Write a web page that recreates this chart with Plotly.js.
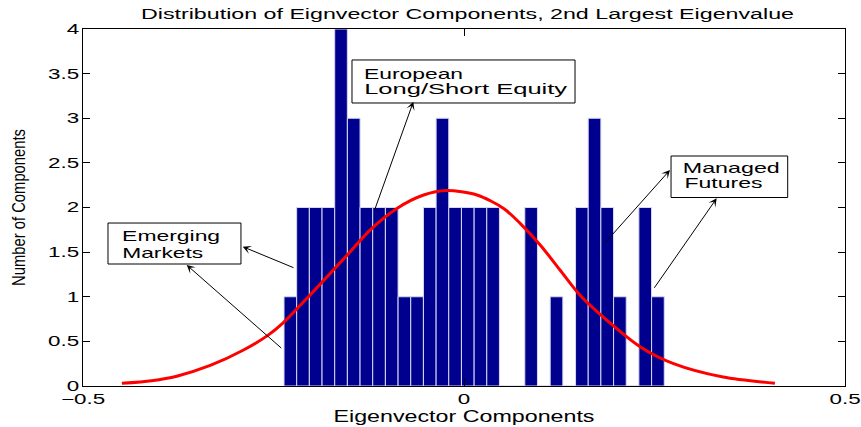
<!DOCTYPE html>
<html>
<head>
<meta charset="utf-8">
<script src="https://cdn.plot.ly/plotly-3.0.1.min.js"></script>
<style>
  body { margin: 0; background: white; }
</style>
</head>
<body>
<div id="plot"></div>
<script>
/*
Distribution of eigenvector components, 2nd largest eigenvalue
*/

// histogram bins (centres) and counts
var binCenters = [-0.2279, -0.2113, -0.1946, -0.1780, -0.1614, -0.1447, -0.1281, -0.1115,
                  -0.0948, -0.0782, -0.0616, -0.0449, -0.0283, -0.0117, 0.0050, 0.0216,
                  0.0382, 0.0549, 0.0715, 0.0881, 0.1048, 0.1214, 0.1380, 0.1547,
                  0.1713, 0.1879, 0.2046, 0.2212, 0.2378, 0.2545];
var counts = [1, 2, 2, 2, 4, 3, 2, 2,
              2, 1, 1, 2, 3, 2, 2, 2,
              2, 0, 0, 2, 0, 1, 0, 2,
              3, 2, 1, 0, 2, 1];

// fitted normal curve
var curveX = [-0.449, -0.410, -0.377, -0.333, -0.290, -0.257, -0.237, -0.202, -0.152, -0.123,
              -0.088, -0.053, -0.023, 0.017, 0.052, 0.074, 0.100, 0.126, 0.152, 0.187,
              0.231, 0.275, 0.340, 0.408];
var curveY = [0.03, 0.06, 0.11, 0.23, 0.40, 0.57, 0.71, 1.02, 1.48, 1.75,
              1.99, 2.14, 2.19, 2.14, 1.99, 1.82, 1.58, 1.30, 1.02, 0.74,
              0.44, 0.25, 0.10, 0.03];

var xTicks = [-0.5, 0, 0.5];

// callout labels and their widths in the picture (px)
var labelText = ["Emerging", "Markets", "European", "Long/Short Equity", "Managed", "Futures"];
var labelX = [-0.3845, -0.3957, -0.0659, 0.0024, 0.3514, 0.3399];
var labelY = [1.681, 1.501, 3.504, 3.336, 2.443, 2.275];
var labelWidth = [98, 81, 99, 203, 97, 78];

var traceBars =
{
  x: binCenters,
  y: counts,
  type: "bar",
  marker:
  {
    color: '#00008F',
    line: { color: 'rgba(215,215,240,1)', width: 1 }
  },
  hoverinfo: "skip"
};

var traceCurve =
{
  x: curveX,
  y: curveY,
  type: "scatter",
  mode: "lines",
  line: { color: '#ff0000', width: 3, shape: 'spline', smoothing: 0.8 },
  hoverinfo: "skip"
};

var data = [traceBars, traceCurve];

// annotation boxes drawn as shapes
function box(x0, x1, y0, y1)
{
  return { type: 'rect', xref: 'x', yref: 'y', x0: x0, x1: x1, y0: y0, y1: y1,
           line: { color: 'black', width: 1 }, fillcolor: 'white', layer: 'above' };
}

function arrow(x, y, ax, ay)
{
  return { text: '', x: x, y: y, ax: ax, ay: ay, xref: 'x', yref: 'y', axref: 'x', ayref: 'y',
           showarrow: true, arrowhead: 3, arrowsize: 1.4, arrowwidth: 1, arrowcolor: 'black',
           standoff: 0, startstandoff: 0 };
}

var annotations = labelText.map(function (t, i)
{
  return { text: t, x: labelX[i], y: labelY[i], xref: 'x', yref: 'y', showarrow: false,
           xanchor: 'center', yanchor: 'middle', font: { size: 15, color: 'black' } };
});

annotations = annotations.concat([
  arrow(-0.2904, 1.561, -0.2218, 1.319),
  arrow(-0.3639, 1.356, -0.2379, 0.411),
  arrow(-0.0665, 3.185, -0.1181, 1.953),
  arrow(0.2703, 2.420, 0.1837, 1.591),
  arrow(0.3316, 2.103, 0.2484, 1.083)
]);

var layout =
{
  width: 861,
  height: 427,
  margin: { l: 83, r: 16, t: 29, b: 41 },
  paper_bgcolor: 'white',
  plot_bgcolor: 'white',
  showlegend: false,
  bargap: 0,
  font: { family: 'Liberation Sans, Arial, sans-serif', size: 14, color: 'black' },
  title:
  {
    text: "Distribution of Eignvector Components, 2nd Largest Eigenvalue",
    font: { size: 14 },
    xref: 'paper', x: 0.5046, xanchor: 'center',
    yref: 'container', y: 1 - 14 / 427, yanchor: 'middle'
  },
  xaxis:
  {
    range: [-0.5, 0.5],
    tickvals: xTicks,
    ticks: 'inside', ticklen: 7, tickcolor: 'black',
    showline: true, linecolor: 'black', linewidth: 1, mirror: 'ticks',
    showgrid: false, zeroline: false,
    title: { text: "Eigenvector Components", standoff: 2 }
  },
  yaxis:
  {
    range: [0, 4], tick0: 0, dtick: 0.5,
    ticks: 'inside', ticklen: 7, tickcolor: 'black',
    showline: true, linecolor: 'black', linewidth: 1, mirror: 'ticks',
    showgrid: false, zeroline: false,
    title: { text: "Number of Components", font: { size: 18 }, standoff: 29 }
  },
  shapes:
  [
    box(-0.4672, -0.2927, 1.367, 1.826),
    box(-0.147, 0.1457, 3.171, 3.653),
    box(0.2717, 0.4248, 2.112, 2.577)
  ],
  annotations: annotations
};

// the original picture is stretched sideways; widen the text to match
function stretch(el, target)
{
  var w = el.getComputedTextLength();
  if (!w) return;
  el.setAttribute('textLength', target);
  el.setAttribute('lengthAdjust', 'spacingAndGlyphs');
}

Plotly.newPlot("plot", data, layout, { displayModeBar: false, staticPlot: true }).then(function (gd)
{
  var t = gd.querySelector('.gtitle');
  if (t) stretch(t, 653);
  var xt = gd.querySelector('.xtitle');
  if (xt) stretch(xt, 261);
  var yt = gd.querySelector('.ytitle');
  if (yt) stretch(yt, 157);
  gd.querySelectorAll('.xtick text, .ytick text').forEach(function (el)
  {
    stretch(el, el.getComputedTextLength() * 1.6);
  });
  gd.querySelectorAll('.annotation').forEach(function (g)
  {
    var i = +g.getAttribute('data-index');
    var el = g.querySelector('.annotation-text');
    if (el && i < labelWidth.length) stretch(el, labelWidth[i]);
  });
});
</script>
</body>
</html>
